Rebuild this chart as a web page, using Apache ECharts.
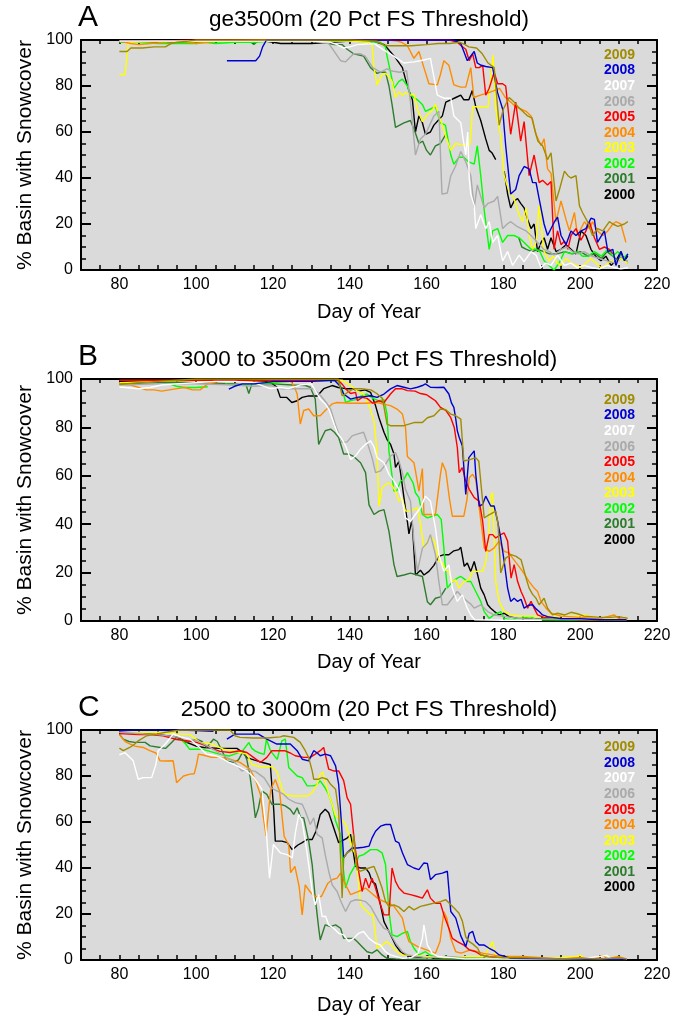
<!DOCTYPE html>
<html>
<head>
<meta charset="utf-8">
<script src="https://cdn.jsdelivr.net/npm/echarts@6/dist/echarts.min.js"></script>
<style>
html,body{margin:0;padding:0;background:#fff;}
#chart{width:688px;height:1017px;}
</style>
</head>
<body>
<div id="chart"></div>
<script>
// ---------------- DATA ----------------
const years = ['2009','2008','2007','2006','2005','2004','2003','2002','2001','2000'];
const yearColors = ['#A08C00','#0000D2','#FFFFFF','#AAAAAA','#FF0000','#FF8C00','#FFFF00','#00FF00','#2E7D2E','#000000'];
const panelLetters = ['A','B','C'];
const panelTitles = ['ge3500m (20 Pct FS Threshold)','3000 to 3500m (20 Pct FS Threshold)','2500 to 3000m (20 Pct FS Threshold)'];
const xTitle = 'Day of Year';
const yTitle = '% Basin with Snowcover';

// Panel A (ge3500m)
const A2000 = [[80,99],[85,99.5],[90,99],[100,99.5],[110,99.5],[118,99.5],[120,99],[122,98.5],[127,98.5],[130,98.5],[135,99],[140,99.5],[146,99.5],[149,98],[150,96],[151,94],[152,92],[153.7,88],[154.5,83],[155.4,78],[156.3,74],[157.1,60],[158,67],[158.9,64],[159.7,59],[161,60],[161.9,63],[163,65],[164.1,67],[165,73],[166.3,74],[167.6,75],[168.9,76],[169.7,74],[171,74],[171.9,78],[172.8,71],[174.1,65],[175.4,57],[176.3,52],[177,51],[178,48],[179,null],[180.2,43],[181.1,33],[181.9,27],[182.8,30],[183.7,31],[184.5,29],[185.4,27],[186.3,22],[187.2,18],[188,20],[188.9,8],[189.8,12],[190.6,14],[191.5,9],[192.4,14],[193.7,8],[195,9],[196.3,11],[197.6,9],[198.9,7],[200.2,17],[201.5,15],[202.8,9],[204,6],[205.4,4],[206.7,6],[208,2],[209.3,4],[210.6,8],[211.5,4],[212.4,6]];
const A2001 = [[80,99.5],[90,99.5],[100,99],[110,99.5],[114,99.5],[115,98],[116,99.5],[125,99.5],[131,99.5],[133,99],[136,98],[138,98],[139.3,96],[141,94],[143.6,93],[145.4,88],[147.1,85.5],[148,86],[149.3,86],[150.2,80],[151,72],[151.9,62],[154.1,64],[155.8,65],[157,60],[158,55],[159,56],[160,52],[161,50],[162.3,54],[163.6,55],[165,59],[166,null],[184,14],[184.8,10],[186,9],[187.5,8],[189,9],[190.5,8],[192,7],[194,7],[196,8],[198,7],[200,8],[202,6],[204,7],[205.5,5],[207,8],[208.5,6],[210,4],[211,6],[212.4,3]];
const A2002 = [[80,99],[85,99],[90,98.5],[95,98.5],[100,98.5],[102,99],[105,98.5],[110,99],[115,99],[120,99.5],[130,99.5],[140,99.5],[148,99],[149.3,97],[149.7,93],[150.6,86],[151.5,79],[152.8,82],[153.7,83],[155,80],[155.8,76],[157.6,74],[158.9,72],[159.7,69],[161,70],[162.3,71],[163.6,64],[164.9,63],[166.3,50],[167.1,46],[168.4,49],[169.7,49],[171,47],[172.4,46],[173.2,54],[174.1,41],[175,26],[176.3,9],[177.2,17],[178.5,18],[179.8,12],[181.1,15],[182.8,15],[184.1,14],[185.4,12],[187.2,9],[188.5,9],[189.5,8],[190.6,4],[191.9,2],[193.2,0],[194.5,3],[195.9,8],[197.6,7],[199.3,8],[200.6,6],[202,6],[203.7,8],[205.5,6],[207.2,9],[208.5,6],[209.8,8],[211.1,5],[212.4,7]];
const A2003 = [[80,85],[81.5,85],[82.3,99],[90,99.5],[100,99.5],[120,100],[140,99.5],[145,99],[145.8,98],[146.3,88],[147.1,80.5],[148.4,85],[149.3,85.5],[150.2,84],[151,82],[151.9,75],[152.8,77.5],[153.7,76],[154.5,77],[155.8,76],[156.7,76.5],[157.6,70],[158.9,64.5],[160.2,67.5],[161.5,69.5],[162.3,72],[163.2,67],[164.1,63],[165,58],[166.3,52],[167.6,55],[168.9,54.5],[170.2,54.5],[171.3,54.5],[172,71],[174,71],[176,71],[177.3,93.5],[178,70],[179.3,58],[180.2,41],[181.5,34],[182.8,31],[184.1,24],[185,21],[185.9,27],[186.7,15],[187.6,9],[188.5,12],[189.3,28],[189.8,20],[190.6,8],[191.9,4],[193,6],[194,3],[195,2],[196.3,5],[197.6,3],[199,2],[200.2,1],[201.5,3],[202.8,5],[204.1,3],[205.4,1],[206.7,2],[208,4],[209.3,3],[210.6,5],[212.4,3]];
const A2004 = [[80,99.5],[83,98.5],[85,98],[88,98.5],[92,99],[95,99.5],[98,99],[100,98.5],[103,99],[106,99.5],[110,99.5],[120,100],[130,100],[140,100],[150,100],[152.3,99.5],[153.5,99],[155,97.5],[156.7,92],[158,95],[159.3,88],[160.6,81],[162.8,80.5],[163.6,85],[164.5,91],[165.8,89],[167.1,80.5],[168.9,79.5],[170.2,79.5],[171.5,88],[172.3,75],[174,76],[176,77],[177.6,78],[179,79],[180.5,75],[181.9,73],[183.2,71],[184.5,70],[185.9,69],[187.2,67],[188.5,59],[189.8,54],[190.6,57],[191.5,44],[192.4,42],[193.7,21],[195,30],[196.3,22],[197.2,17],[198.5,25],[199.3,15],[201.1,21],[202.4,18],[203.2,21],[204.5,17],[205.9,15],[207.2,17],[208.5,20],[209.3,21],[210.6,20],[211.9,12]];
const A2005 = [[80,99.5],[90,99.5],[100,100],[120,100],[140,100],[160,100],[166,100],[168,99],[169,97.5],[170.2,96],[171.1,91],[172,94],[172.8,88],[173.7,88],[174.6,89],[175.4,76],[176.3,79],[177.6,86],[178.5,81],[179.8,81],[180.6,80],[181.9,59],[183.2,73],[184.5,56],[185.4,64.5],[186.7,41],[188,50],[189.3,38],[190.2,39],[191.5,37],[192.4,38.5],[193.2,9],[194.1,17],[195,11],[195.9,12.5],[196.8,9],[197.6,15],[198.9,18],[200.2,13],[201.5,17],[202.4,21],[203.7,14],[205,9],[206.3,10],[207.6,9],[208.5,7]];
const A2006 = [[80,99.5],[90,99.5],[100,99.5],[110,99.5],[120,99.5],[130,99.5],[134.5,98.5],[137.6,91],[138.9,90.5],[141,94],[142.8,94],[144,93],[146,88],[148,86],[149.7,87.5],[151,86.5],[153,86],[154.8,86.6],[155.8,73],[157.1,50],[158.4,57],[159.7,59],[161.9,67],[163.2,69],[164,33],[165.4,33.5],[166.3,41],[167.5,45],[168.9,51.5],[170.2,47],[171.5,41],[172.4,27],[173.2,37],[175,27],[176,29],[177.6,30],[178.5,32],[179.8,18],[181,20],[181.9,21],[183.5,19],[185.9,17],[187.2,15],[188.9,12],[190.5,9],[192,8],[193.2,6.5],[195,9],[196.5,10],[198,8],[199.5,7],[201,8],[203,6],[205,5],[207,4],[209,3],[210.5,6],[212.4,4]];
const A2007 = [[80,99.5],[90,99.5],[100,99.5],[110,99.5],[120,99.5],[130,99.5],[135,99],[136.7,98],[138.4,96.5],[140,97],[141.9,98],[146.3,98.5],[148.5,96],[150.5,94],[152.3,92],[154.1,90],[156.7,90.5],[159.3,91.3],[161,92],[162.8,76],[164.5,74.7],[166.3,74.7],[167.1,67],[168.9,64],[169.5,57],[170.2,50],[170.7,60],[171.1,40],[171.5,33],[172.4,28],[172.8,18],[174.1,24],[175.4,18],[176.3,21],[177.2,12],[178.5,15],[179.8,4],[181.1,8],[182.4,2],[184.1,6.5],[185.4,3.6],[187.2,8],[188.5,6.5],[189.8,1],[191,3],[192.4,2],[194.1,6.5],[195.9,2],[197.6,3],[199.3,1],[201,2],[203,1],[205,0.5],[207,2],[209,1],[210.6,0.5],[212.4,1]];
const A2008 = [[108,91],[112,91],[115.5,91],[116.5,93],[117.3,97],[118.3,100],[130,100],[140,100],[150,100],[160,100],[167,100],[168.9,98.5],[169.7,95],[170.6,91],[172.4,95],[173.2,90],[174.2,89],[175.4,88.5],[177.2,88],[178.5,77],[179.8,70],[180.6,54],[181.9,33],[183.2,35],[184.1,41],[185.4,45],[186.7,44],[187.6,38],[188.5,38],[189.3,31],[190.6,20],[191.5,15],[193.3,21],[194.1,23],[195,15],[196.3,11],[197.6,17],[198.9,15],[200.2,17],[201.5,18],[202.8,22.5],[203.7,22],[204.5,12],[206.3,17],[207.2,8],[208.5,9],[209.3,2],[210.6,8],[211.5,4],[212.4,7]];
const A2009 = [[80,95],[82,95],[83,96.5],[86,96.5],[89,97],[92,97],[93.5,98.5],[95,99],[98,99.5],[100,100],[110,100],[120,100],[130,100],[140,100],[147,99.5],[148.5,98],[150,97.5],[153,97.5],[156,97.5],[160,98],[163,98.5],[166,98.5],[168.7,99],[170,98],[171,97],[173,96.5],[174.5,94],[176,90],[177.6,88],[178.9,63],[180,70],[181.5,75],[182.8,73],[183.8,71],[185,69],[186.3,67],[187.5,66],[188.3,60],[189,56],[190.2,54],[191.5,48],[192.4,51],[193.7,30],[194.6,35],[195.9,43],[196.8,41],[197.6,40],[198.9,41],[199.8,28],[200.6,25],[201.9,21],[203.2,15],[204.5,18],[205.9,17],[207.6,21],[208.5,20],[209.8,19],[211.5,20],[212.4,21]];

// Panel B (3000 to 3500m)
const B2000 = [[80,99],[90,99],[100,99.5],[110,99.5],[118,99],[119.5,98.5],[121,96.6],[121.9,92.4],[123.6,92.4],[124.9,90.3],[126.3,91],[127.6,92.4],[129.3,93],[131.5,93],[133.2,96],[135.4,97.3],[137,96.5],[138.9,96],[140.6,96],[142.3,95],[144,95.5],[145.4,94.5],[146.7,89],[147.6,84],[148.9,78],[149.7,75],[150.6,73],[151.5,69],[151.9,63.5],[152.8,66],[153.5,58],[154.1,51],[155,41],[155.4,36],[156.2,42],[157.1,19],[158.4,21],[159.3,19],[160.6,20.5],[161.9,23],[163.2,26.7],[164.5,27.4],[165.8,27.4],[167.1,29],[168.4,29.5],[168.9,30.5],[169.8,22.6],[170.6,24],[171.5,20.5],[172.4,24.6],[173.3,19],[174.1,13.6],[175,10.8],[175.9,6.7],[176.7,5.3],[177.6,4],[178.9,2.5],[180.2,3.2],[181.5,1.8],[184,1],[190,1],[200,0.5],[212,0.5]];
const B2001 = [[80,98],[90,98.5],[100,98.5],[110,98],[113,97.5],[113.7,94],[114.5,98],[120,98],[125,97.5],[128.4,97.3],[129.7,96.6],[131,91.7],[131.9,73],[132.8,76],[133.6,78.6],[135,79.3],[136,78],[137.1,75.8],[138.4,69],[139.7,69],[141,68],[142.8,65.4],[144.1,61.3],[145,48],[146.3,44],[147.6,45.4],[148.9,46],[150.2,37],[151.5,23.3],[152.3,18.4],[154.1,19],[155.8,19.8],[157.6,19],[158.9,18.4],[160.2,8],[161,6.7],[162.3,9.4],[163.6,10],[165,13.6]];
const B2002 = [[92.5,98.3],[94.9,97],[97,96.5],[100,96.5],[103,96.8],[105,null],[107.5,98],[110,97.5],[115,98],[120,98.5],[125,99],[130,99],[135,99.5],[137,99],[138.2,95],[138.9,90.3],[140,91],[141.5,91.5],[143,93],[144.5,93.8],[146,92],[147.6,91],[148.9,91.5],[149.7,85.5],[150.2,70],[151,60],[151.5,53.7],[152.3,54],[153.2,57.8],[154.1,58.5],[155,61.3],[155.8,59],[156.5,57],[157.1,53],[158,51],[158.9,44],[160.2,42.6],[161.5,43.3],[162.8,44],[163.8,42],[164.5,30],[165,20],[165.4,13.6],[166.7,16.3],[168,17.7],[168.9,18.4],[169.7,17.5],[170.6,16.3],[171.5,16.3],[172.8,12.2],[174.1,8.1],[175,3.9],[176.3,1.1],[177.5,2.5],[179.3,3.9],[180.2,1],[182,0.5],[187.2,1.8],[188.5,0.5],[212,0.3]];
const B2003 = [[80,98.5],[90,99],[100,99.5],[110,99],[120,99.5],[130,99.5],[138,99.5],[140.2,97.3],[142,95],[143.6,93.8],[145,89],[146.3,82.7],[147.1,70],[147.6,47.5],[148.4,55],[149.3,56.4],[150.2,57],[151,56],[151.9,53.7],[152.8,49.5],[153.6,51],[154.5,45.4],[155.8,45.4],[157.6,46.8],[158.4,40],[159.3,30.2],[160.2,33],[161,35],[162,33],[163.2,24.6],[164.1,24],[165,21],[165.8,20.5],[166.7,16.3],[167.5,17],[168.4,13.6],[169.7,16.3],[171,17],[172,20.5],[173.3,20.5],[174.6,20.5],[175.4,24.6],[176.2,35],[176.7,52],[177.2,53],[178,16.3],[178.9,8],[180.2,4],[182,2.5],[185,2],[190,2],[195,2],[200,2],[201,2.5],[205,1],[212,1]];
const B2004 = [[80,98],[83,97.5],[85,96.5],[87,95.5],[89,95.5],[91,95],[93,95.5],[95,96],[97,96.5],[99,95.5],[101,95.5],[103,98],[106,99],[110,99],[115,99.5],[120,99.5],[124.5,99.5],[125.5,97],[126.3,93.8],[127.1,81.4],[128,87],[129.3,87.6],[130.6,84.8],[132.3,84.8],[133.6,87],[135.4,89.7],[136.7,90.3],[140,90],[144,90],[147.1,90.3],[149,89.5],[150.6,89],[152.3,87.6],[153.7,85.5],[154.5,80],[155,68],[156.7,65.4],[157.1,62],[158,53.7],[158.9,63],[159.3,44],[162.3,44],[163.6,60.6],[164.1,65.4],[165,62],[166,50],[166.7,43.3],[169.7,43.3],[170.5,50],[171.1,59.2],[172,60.6],[172.8,58.5],[173.7,46.8],[175,30.2],[176.3,28.8],[177.6,30.2],[178.9,33],[180.2,28.8],[181.5,28.1],[182.4,26],[183.7,23.3],[185,20.5],[186.7,16.3],[188,13.6],[188.9,12.2],[189.8,8.1],[191.1,5.3],[192.4,3.2],[195,2],[200,1.5],[205,1],[208.9,2.5],[210,1],[212,1.5]];
const B2005 = [[80,99.5],[90,99.5],[100,99.5],[110,99.5],[120,99.5],[130,99.5],[137,99.5],[138.2,97.5],[138.9,96],[140.2,94],[141.5,94.5],[142,91],[143.2,92.4],[144.5,92],[146,90],[147.5,91],[148.9,90.3],[150.6,93.8],[151.9,96],[153.5,96],[155,95.2],[157,95],[158.4,94],[160,93.5],[161,92.4],[162.3,91],[163.6,88.3],[165,87],[166.3,84],[167.2,80],[168,71.7],[168.5,61.3],[169.3,63.4],[170.2,57.8],[171.1,54.4],[172.4,51],[173.7,49.5],[174.6,41.2],[175.4,28.8],[176.3,35.7],[177.2,35.7],[178,34.3],[179.3,35.7],[180.2,36.4],[181.1,33],[182,17.7],[182.8,23.3],[183.7,16.3],[184.6,12.2],[185.4,9.4],[186.3,5.3],[187.2,8.1],[188,5.3],[188.9,2.5],[190.6,1.5],[195,1],[200,0.5],[212,0.5]];
const B2006 = [[80,97.5],[90,98],[100,98],[110,97.5],[115,97],[119.3,97.3],[122,96],[125,96],[128,96],[130.6,96],[132.5,93],[134,90],[135,87.6],[136.5,80],[138,73.8],[139.3,74],[140.6,76.5],[141.9,77.2],[143.6,78],[144.5,74],[145.8,67.5],[146.7,61.3],[148,62],[149.3,64.7],[150.6,68.2],[151.9,69.6],[152.8,66],[153.7,61.3],[154.5,54.4],[155.8,49.5],[156.7,33],[157.6,20.5],[158.9,30],[160.2,32.3],[161,35.7],[162.3,27.4],[163.2,16.3],[164.1,6.7],[165.4,6.7],[166.7,9.4],[168,12.2],[169.3,10],[170.6,8.1],[171.5,7],[172.4,5.3],[174.1,6.7],[175.9,3.9],[177.6,2.5],[180.6,1.8],[185,1],[212,0.5]];
const B2007 = [[80,96.7],[85,96],[88,96.5],[91,97.5],[95,98],[100,98.5],[105,99],[110,99],[115,98.5],[119.3,96],[121.9,96.5],[124,96],[127,97.5],[130,98],[132.3,91.7],[133.6,89.7],[134.5,87.6],[135,85.5],[136,81],[136.7,78],[138,75],[138.9,72.4],[140.2,66.8],[141.5,68.2],[142.8,71],[144.1,73],[145.4,74.4],[146.3,72],[147.1,67.5],[148.9,65.4],[150.2,60.6],[151.5,57.8],[152.8,54.4],[153.7,49.5],[154.5,42.6],[155.8,41.2],[157.1,44],[158.4,46.8],[159.7,51.6],[161,49.5],[162.3,38.5],[163.2,27.4],[164.5,20.5],[165.8,23.2],[166.7,13.6],[168,8.1],[169.3,10.8],[170.6,5.3],[171.5,2.5],[172.5,0.5],[180,0.3],[190,0.3]];
const B2008 = [[108.5,95.8],[110,97],[112,98],[115,98],[118,98.5],[120,99],[125,99],[130,99],[136,99.5],[137.5,97],[138.4,93.8],[140.2,91.7],[141.9,92.4],[143.6,92.7],[145.4,93.1],[147.1,92.4],[148.9,93.8],[150.6,95.9],[152.3,97.3],[154.1,96.6],[155.8,95.9],[157.6,96.6],[158.9,97.3],[159.7,98],[161,96.6],[162.8,96.5],[164.5,96.6],[165.8,93.8],[166.5,90],[167.1,88.3],[167.6,83.4],[168,78.6],[168.5,75.8],[169.3,72.4],[170.2,52.3],[171,67.5],[171.5,68.2],[172.4,70.3],[172.8,60.6],[173.7,47.5],[174.6,48.2],[175.4,51.6],[176.7,47.5],[177.6,47.5],[178.5,41.2],[179.3,34.3],[180.2,24.6],[181.1,13.6],[181.9,8.1],[182.8,9.4],[183.7,8.1],[184.6,9],[185.4,5.3],[186.5,6.5],[187.6,6.7],[188.5,5],[189.3,3.9],[190.2,2.5],[191.5,1.8],[195,1],[200,1],[205,0.5],[212,0.5]];
const B2009 = [[80,97.7],[85,98.5],[90,99],[95,99.5],[100,100],[110,100],[120,100],[130,100],[137,100],[138,93.1],[139,94],[141,96],[143,96],[145.5,95.5],[147,94],[148.5,92],[149.7,81.4],[150.6,80.7],[154.1,80.7],[156.7,82],[158.9,82],[160.2,84],[161.9,84.8],[163.6,87.6],[165,87.3],[166.3,85.5],[167.6,84.8],[168.9,83.4],[169.7,66.1],[171.5,66.8],[172.8,67.5],[173.6,66],[175,42.6],[175.9,43.5],[177.2,44.7],[178,45.4],[178.6,40],[179.3,19.8],[180.6,26],[182,27.4],[183.3,26.7],[184.6,25.3],[185.9,17.7],[186.7,13.6],[187.6,11],[188.5,9.4],[189.3,6.7],[190.6,9.4],[191.5,5.3],[192.8,2.5],[194.1,3.2],[196,2.5],[197.6,3.6],[199.3,3],[201,2],[202.8,1.8],[205,1.5],[208,1.5],[210,1.8],[212.4,1.1]];

// Panel C (2500 to 3000m)
const C2000 = [[80,99],[85,98.5],[90,98],[95,97],[97,95],[100,93],[102,92.4],[106,92],[110.6,92],[112.3,90],[113.2,88],[115,87],[117,86],[119.3,85],[120.2,65],[120.6,51.7],[122.3,51.7],[123.7,51],[125,48],[126.5,50],[127.6,51],[128.9,52.4],[130.2,52.4],[131.2,56],[132.3,63.3],[133.6,65.5],[134.5,64],[135.8,57.5],[137.1,51],[138.2,52],[139.3,53],[140.2,54.6],[140.8,48],[141.5,40.7],[142.8,40],[144.1,40],[145,38],[145.8,34.2],[146.7,33],[147.6,27],[148.9,16.7],[149.7,14],[150.6,11],[151.9,6.5],[153.2,3.6],[154.5,2.2],[156,1.5],[158.8,1.2],[160.5,1.7],[162,0.5],[170,0.5],[212,0.3]];
const C2001 = [[80,98.2],[81,96],[82.5,95],[84,94.6],[86.7,94.6],[88,93.1],[90.6,92.4],[92,92],[93.6,94.6],[94.9,96.8],[96,96],[97.5,94.6],[100.1,96],[101.5,95],[102.7,92.4],[104.5,96],[105.5,95],[107,90],[107.9,86.6],[109.7,85.9],[111,87],[112.3,91],[113.2,87],[114,80],[114.9,69],[115.4,61.8],[116.2,66],[117.1,73.5],[118.4,72],[119.7,67.7],[121,67.7],[121.9,67.7],[123.2,67],[124.5,65.5],[125.4,63.3],[126.3,66.2],[127.2,62],[128,61.8],[129.3,51.7],[130.2,41.5],[131,27],[131.9,13.8],[132.3,8.7],[133.6,15.3],[135,14.5],[136.3,15.3],[137.6,13.8],[138.4,9.4],[139.7,9.4],[141,9.4],[141.9,8],[143.2,5.8],[144.5,3.6],[145.8,3],[147.1,4.4],[148.4,2.2],[149.7,0.7],[152,0.5],[160,0.3],[212,0.2]];
const C2002 = [[96,95.9],[97.2,94],[98.3,91.6],[100,91.6],[101.7,91.6],[104,90.5],[106.3,89.4],[108.6,88.7],[110,89.5],[112,90.8],[113.7,94.5],[114.5,92],[115.4,90.8],[116.5,90],[117.7,89.4],[118.3,95.9],[119.4,90.8],[121.1,87.2],[122.3,95.3],[123.2,96],[124.1,83.7],[125,82.2],[126.3,80],[127.6,79.3],[128.9,75.7],[130.2,75.7],[131.2,76],[132.3,77.9],[133.5,75],[134.5,72],[135.4,67.7],[136.3,60.4],[137.6,54.6],[138.3,40],[138.9,31.3],[140,37],[141.5,41.5],[142.3,45.1],[143.6,45.8],[145.4,48],[147.1,48],[148.4,46.6],[149.3,41.5],[150.2,21.1],[151,10.9],[152.3,10.2],[153.7,11.6],[155,12.4],[155.8,8],[156.7,5.1],[158,2.2],[159.7,3.6],[161,2],[163,1.2],[165,1.5],[170,1],[180,0.5],[212,0.3]];
const C2003 = [[80,99],[85,99],[90,99],[95.8,98.2],[98.4,98],[101,94.6],[104,93.9],[107.1,91.7],[109.7,91],[113.2,89.5],[114.5,85],[116.7,84],[119.7,84],[121,82],[121.9,77],[122.5,73.5],[123.2,72],[125,71.3],[127.1,71.3],[128.9,71.3],[130.2,72.8],[131.5,76.4],[132.3,80.8],[133,81.5],[133.7,77],[134.5,72],[135.4,67.7],[136.3,62.6],[137.6,61.8],[138.9,58.9],[139.7,55],[140.6,48.7],[141.5,45.8],[141.9,40],[142.8,24],[144.5,21.1],[145.4,19.6],[146,20],[146.7,10.9],[147.1,5.1],[148.4,6.5],[149.7,8],[151,6],[152.3,3.6],[153.7,2.2],[156,2],[160,1.5],[165,1],[170,1.5],[175,1.5],[177.2,8],[178,2],[180,1],[190,0.5],[195,1],[199,1.5],[200,2],[201,0.8],[205,0.5],[212,0.5]];
const C2004 = [[80,98],[81.5,95],[82.7,94],[84,93],[86.2,92.4],[87.9,91],[89.5,90],[90.6,86.6],[92,86.5],[94,86.6],[94.9,77.1],[96.7,80],[98.4,80.8],[99.5,81],[100.1,85],[100.6,89.5],[102,89],[104,88.1],[106.2,88.1],[108.8,87.3],[111.4,85.9],[114,83],[115.5,78],[116.7,72],[117.5,62],[118.2,54],[119.4,74],[120.6,78.5],[121.7,73.4],[122.9,53.8],[124.1,50],[124.6,38],[125.7,40.7],[126.8,32],[127.6,19.6],[128.4,32.7],[129.5,30],[130.8,27.6],[132.6,27.6],[134.3,33.4],[135.5,35],[136.7,35.6],[137.6,37.8],[138.9,32.7],[140.2,28.4],[142.3,29.8],[144.1,31.3],[145.7,29],[147.1,27],[148.9,25.4],[150.2,24.7],[151.5,23.3],[152.5,21],[153.7,18.2],[154.5,12.4],[155.4,8],[157.7,5.8],[160,4.4],[162.3,2.9],[163.5,8],[164.5,21],[165.3,18],[166.3,9.4],[167.6,3.6],[169,3],[171.4,4.4],[172.5,4],[174.8,2.9],[178,2],[180,1.5],[185,1.5],[190,1],[195,0.5],[200,1],[204,0.8],[206,2],[207,0.5],[210,1.5],[212,0.5]];
const C2005 = [[80,98.5],[85,98],[88,98],[91.4,97.5],[94.5,96],[97.5,95.3],[100.1,94.6],[102.7,93.1],[104.5,91.7],[106.2,90.7],[108.8,90.2],[111.4,91],[113.2,90.2],[115,88],[116.7,85.9],[118.4,88.1],[119.7,91],[121,91],[123,91],[124.5,90],[125.8,88.8],[128,88.1],[129.7,88.1],[131,89.5],[132.3,91],[133.2,92.4],[134.5,83],[135.8,82.2],[137.1,82.2],[138.4,78],[139.3,70.6],[140.2,67.7],[141,54.6],[141.5,47.3],[142.3,38.6],[143.2,29.8],[144.1,35.6],[145,31.3],[145.8,35.6],[146.7,31.3],[147.8,25],[148.9,19.6],[150.2,19.6],[151,40],[151.9,34.2],[152.8,31.3],[154.1,29.1],[155.8,28.4],[157.6,27.6],[158.9,26.9],[160.2,30.5],[161,26.9],[162.3,24.7],[163.6,24.7],[164.5,19.6],[165.8,13.8],[166.7,9.4],[168,8],[169.7,6.5],[171.1,4.4],[172.8,3.6],[174.1,2.2],[176,1.5],[180,0.8],[190,0.5],[212,0.3]];
const C2006 = [[80,99],[85,98.5],[90,98],[95,97],[100,95.5],[103,93],[106,90],[110,86],[111.9,82.2],[113.2,82.8],[115.4,82],[117.7,79.2],[119.3,75],[121,73.5],[122.8,72],[124,70],[125.8,68.4],[127.6,67.7],[128.4,64.8],[129.7,58.9],[130.6,61.8],[131.5,54.6],[132.8,53.1],[133.6,45.8],[134.5,38.6],[135.4,32.7],[136.7,29.8],[137.8,25],[138.9,21.1],[140.2,25.4],[141.5,26.2],[142.8,26],[144.1,25.4],[145.4,23.3],[146.5,20],[147.6,16.7],[148.9,13.8],[150,13],[151,10],[152.3,6.5],[153.7,3.6],[155,2.2],[158,1.5],[160,1],[165,1.5],[170,1],[180,0.5],[212,0.3]];
const C2007 = [[80,89.2],[81.4,90.2],[82.5,88.5],[83.6,86.6],[84.9,78.6],[86.2,79.3],[88.4,79.3],[89.5,85],[90.1,91],[92,94],[94,98.2],[96,97],[98.4,96],[100.5,93],[102.7,89.5],[104.5,89],[106.2,88.1],[108.4,86],[110.6,84.4],[113.2,82.2],[115.2,79],[117.1,74.2],[118.3,55],[119.1,35.6],[120.1,50.2],[121.9,46.6],[123.7,45.8],[125,44.4],[125.8,55],[126.7,63.3],[127.6,60.4],[128.4,51.7],[129.3,41.5],[130.2,29.8],[131,24],[131.9,28.4],[132.8,18.9],[133.7,19],[134.5,15.3],[135.8,13.8],[137.1,11.6],[138.4,10.9],[139.7,8],[141,9.4],[142.3,11.6],[143.6,12.4],[145,9.4],[146.5,7.5],[148,6.5],[149.3,3.6],[150.6,2.2],[153.7,0.7],[156,1],[157.8,3],[158.9,9.4],[159.3,15.3],[160.2,6.5],[161.5,2.9],[163,1.5],[170,0.5],[180,0.5],[190,0.3],[200,0.5],[207,2],[208,0.5],[212,0.3]];
const C2008 = [[80,99.7],[85,100],[90,100],[95,100],[100,99.8],[104.5,99.4],[105,null],[108,96],[110.1,98.2],[113.2,98.2],[116.2,98.2],[118.4,96],[119.3,95.3],[121,93.9],[122.8,93.9],[124.5,93.9],[126.3,91],[127.6,87.3],[129.3,86.6],[130.6,91],[131.5,90],[132.3,88.8],[133.6,89.5],[135,88.8],[136.3,84.4],[137.1,76.4],[137.8,60],[138.4,44.4],[139.3,46.6],[140.6,48.7],[141.9,48.7],[143.6,49],[145,49.5],[145.8,53.1],[146.7,56],[148,58.2],[149.3,58.9],[150.6,58.9],[151.9,51.7],[152.8,50.9],[153.7,46.6],[155,41.5],[156.7,40],[158,39.3],[159.3,42.2],[160.2,42],[161,34.9],[162.3,37.1],[164.1,37.8],[165.4,38.6],[166.3,21.1],[167.6,18.2],[168.9,10.5],[169.3,10.9],[170.2,5.8],[171.1,11.6],[172,12.4],[172.8,8],[173.7,6.5],[175,6.5],[176.3,5.1],[177.6,4],[178.9,2.2],[180.5,1.5],[182,0.7],[190,0.5],[212,0.3]];
const C2009 = [[80,92.1],[81,91],[82.7,92.4],[84,93.9],[84.9,95.3],[87.1,97.5],[89.7,98.2],[92,99],[95.8,100],[100,100],[105,100],[108.8,100],[110.1,97.5],[111.4,96.8],[114.9,96.5],[118.4,96.5],[121.9,97],[122.8,97.5],[125.4,96.8],[127.1,94.6],[128.4,91],[129.3,88],[130.2,82.2],[130.6,78.6],[131.9,78.6],[132.8,79.3],[134.1,78.6],[135,76.4],[136.3,74.2],[137.1,64.8],[137.6,44.4],[138,27],[138.4,44.4],[139.3,46.6],[140.6,48],[141,54.6],[141.5,45],[141.9,39.3],[142.8,38.6],[145,40],[146.3,40.7],[147.2,37],[148.4,31.3],[149.3,25.4],[150.2,23.3],[151.5,24],[152.8,23],[154.1,21.1],[155.4,23.3],[156.7,21.8],[158.4,23.3],[160.2,24],[161.9,24.7],[163.6,25.4],[165,26.2],[166.3,24],[167.6,21.8],[168.4,20.4],[169.3,17],[170.2,10],[171.1,8],[172,7],[173.3,5.1],[174.1,2.2],[176.3,1.5],[180,1],[185,1],[190,0.8],[195,0.5],[200,0.8],[205,0.5],[210,1],[212,0.5]];

// series per panel, ordered 2009 ... 2000 (same as years)
const panelSeries = [
  [A2009,A2008,A2007,A2006,A2005,A2004,A2003,A2002,A2001,A2000],
  [B2009,B2008,B2007,B2006,B2005,B2004,B2003,B2002,B2001,B2000],
  [C2009,C2008,C2007,C2006,C2005,C2004,C2003,C2002,C2001,C2000]
];

// ---------------- LAYOUT ----------------
const FONT = 'Liberation Sans, Arial, Helvetica, sans-serif';
const grids = [
  {left:81, top:40, width:576, height:230},
  {left:81, top:379, width:576, height:242},
  {left:81, top:730, width:576, height:230}
];
const titleY = [20, 360, 710];
const letterY = [19, 358, 709];
const xTitleY = [312, 662, 1005];
const legendY0 = [55, 400, 747.5];
const legendStep = 15.56;

const option = {
  animation: false,
  backgroundColor: '#ffffff',
  grid: grids.map(g => ({left:g.left, top:g.top, width:g.width, height:g.height, show:true, backgroundColor:'#DADADA', borderWidth:0})),
  xAxis: [],
  yAxis: [],
  series: [],
  graphic: []
};

grids.forEach((g, gi) => {
  option.xAxis.push({
    type:'value', gridIndex:gi, position:'bottom', min:70, max:220, interval:5,
    axisLine:{show:true, onZero:false, lineStyle:{color:'#000', width:2}},
    axisTick:{show:true, inside:true, length:5, lineStyle:{color:'#000', width:1.5}},
    axisLabel:{show:true, margin:7, fontSize:16, fontFamily:FONT, color:'#000',
      formatter: v => (v % 20 === 0 ? String(v) : '')},
    splitLine:{show:false}
  });
  option.xAxis.push({
    type:'value', gridIndex:gi, position:'top', min:70, max:220, interval:5,
    axisLine:{show:true, onZero:false, lineStyle:{color:'#000', width:2}},
    axisTick:{show:true, inside:true, length:4, lineStyle:{color:'#000', width:1.5}},
    axisLabel:{show:false}, splitLine:{show:false}
  });
  option.yAxis.push({
    type:'value', gridIndex:gi, position:'left', min:0, max:100, interval:20,
    axisLine:{show:true, onZero:false, lineStyle:{color:'#000', width:2}},
    axisTick:{show:true, inside:true, length:10, lineStyle:{color:'#000', width:2}},
    minorTick:{show:true, splitNumber:4, length:5, lineStyle:{color:'#000', width:1.5}},
    axisLabel:{show:true, margin:8, fontSize:16, fontFamily:FONT, color:'#000'},
    splitLine:{show:false}, minorSplitLine:{show:false}
  });
  option.yAxis.push({
    type:'value', gridIndex:gi, position:'right', min:0, max:100, interval:20,
    axisLine:{show:true, onZero:false, lineStyle:{color:'#000', width:2}},
    axisTick:{show:true, inside:true, length:10, lineStyle:{color:'#000', width:2}},
    minorTick:{show:true, splitNumber:4, length:5, lineStyle:{color:'#000', width:1.5}},
    axisLabel:{show:false}, splitLine:{show:false}, minorSplitLine:{show:false}
  });

  // draw 2000 first, 2009 last
  for (let k = years.length - 1; k >= 0; k--) {
    option.series.push({
      type:'line', name: panelLetters[gi] + years[k],
      xAxisIndex: gi*2, yAxisIndex: gi*2,
      data: panelSeries[gi][k],
      showSymbol:false, symbol:'none', connectNulls:false,
      lineStyle:{color: yearColors[k], width:1.4},
      itemStyle:{color: yearColors[k]},
      emphasis:{disabled:true}, silent:true
    });
  }

  const cx = g.left + g.width/2;
  option.graphic.push({type:'text', left:78, top:letterY[gi]-16, silent:true,
    style:{text:panelLetters[gi], fill:'#000', font:'30px ' + FONT}});
  option.graphic.push({type:'text', x:cx, y:titleY[gi], silent:true,
    style:{text:panelTitles[gi], fill:'#000', font:'22.5px ' + FONT, textAlign:'center', textVerticalAlign:'middle', align:'center', verticalAlign:'middle'}});
  option.graphic.push({type:'text', x:cx, y:xTitleY[gi], silent:true,
    style:{text:xTitle, fill:'#000', font:'20px ' + FONT, textAlign:'center', textVerticalAlign:'middle', align:'center', verticalAlign:'middle'}});
  option.graphic.push({type:'text', x:25, y:g.top + g.height/2, rotation:Math.PI/2, silent:true,
    style:{text:yTitle, fill:'#000', font:'21px ' + FONT, textAlign:'center', textVerticalAlign:'middle', align:'center', verticalAlign:'middle'}});
  years.forEach((yr, k) => {
    option.graphic.push({type:'text', x:604, y:legendY0[gi] + k*legendStep, silent:true, z:100,
      style:{text:yr, fill:yearColors[k], font:'bold 14px ' + FONT, textAlign:'left', textVerticalAlign:'middle', align:'left', verticalAlign:'middle'}});
  });
});

const chart = echarts.init(document.getElementById('chart'), null, {renderer:'canvas', width:688, height:1017});
chart.setOption(option);
</script>
</body>
</html>
